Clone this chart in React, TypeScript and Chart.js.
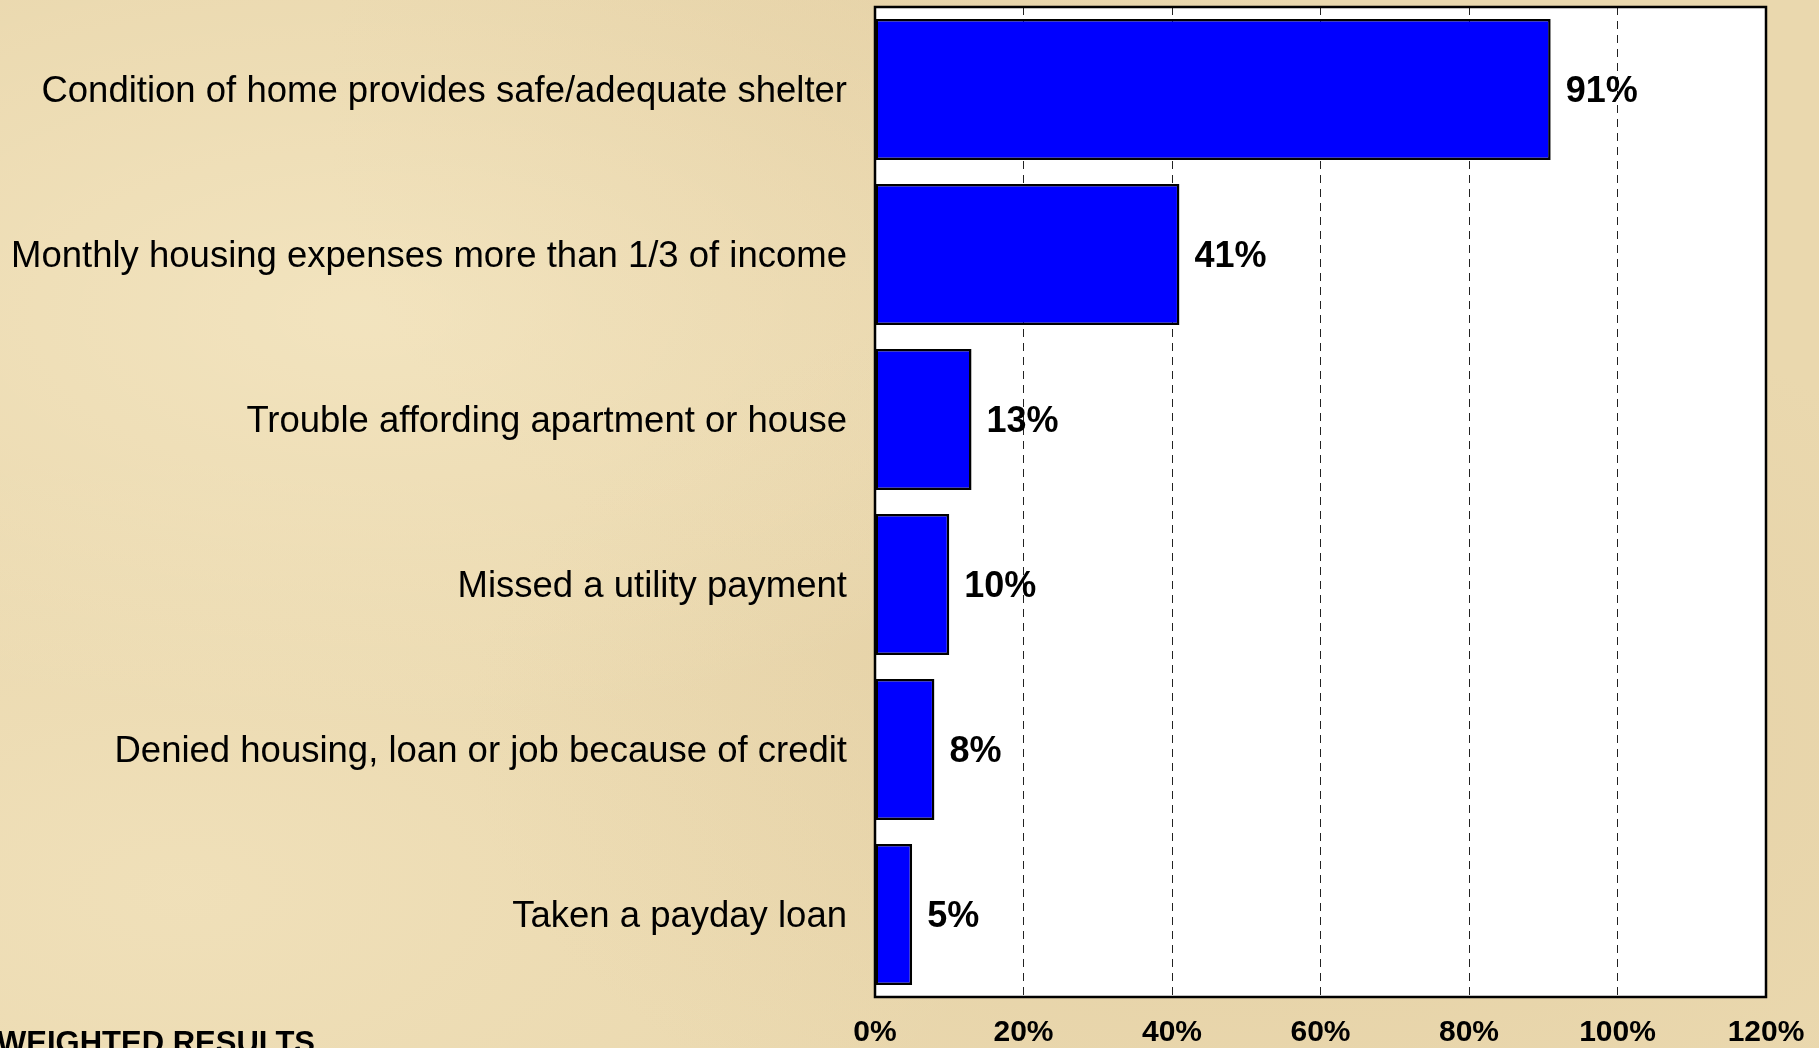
import React, { useEffect, useRef } from "react";
import { Chart, registerables } from "chart.js";

Chart.register(...registerables);

const categories = [
  "Condition of home provides safe/adequate shelter",
  "Monthly housing expenses more than 1/3 of income",
  "Trouble affording apartment or house",
  "Missed a utility payment",
  "Denied housing, loan or job because of credit",
  "Taken a payday loan",
];
const values = [91, 41, 13, 10, 8, 5];
const axisMin = 0;
const axisMax = 120;
const axisStep = 20;
const footnote = "WEIGHTED RESULTS";

const FONT = "'Liberation Sans', Arial, Helvetica, sans-serif";

const framePlugin = {
  id: "frame",
  beforeDraw(chart: any) {
    const { ctx, chartArea: a } = chart;
    ctx.save();
    ctx.fillStyle = "#ffffff";
    ctx.fillRect(a.left, a.top, a.right - a.left, a.bottom - a.top);
    ctx.restore();
  },
  afterDatasetsDraw(chart: any) {
    const { ctx, chartArea: a } = chart;
    ctx.save();
    ctx.strokeStyle = "#000";
    ctx.lineWidth = 2.5;
    ctx.strokeRect(a.left, a.top, a.right - a.left, a.bottom - a.top);
    const meta = chart.getDatasetMeta(0);
    ctx.fillStyle = "#000";
    ctx.font = `bold 36px ${FONT}`;
    ctx.textAlign = "left";
    ctx.textBaseline = "middle";
    meta.data.forEach((el: any, i: number) => {
      ctx.fillText(`${values[i]}%`, el.x + 15, el.y + 3);
    });
    ctx.restore();
  },
  afterDraw(chart: any) {
    const { ctx } = chart;
    ctx.save();
    ctx.fillStyle = "#000";
    ctx.font = `bold 31px ${FONT}`;
    ctx.textAlign = "left";
    ctx.textBaseline = "alphabetic";
    ctx.fillText(footnote, -3, 1053);
    ctx.restore();
  },
};

export default function App() {
  const ref = useRef<HTMLCanvasElement | null>(null);
  useEffect(() => {
    document.body.style.margin = "0";
    const chart = new Chart(ref.current as HTMLCanvasElement, {
      type: "bar",
      data: {
        labels: categories,
        datasets: [
          {
            data: values,
            backgroundColor: "#0000FF",
            borderColor: "#000000",
            borderWidth: 2.5,
            borderSkipped: false,
            categoryPercentage: 1,
            barPercentage: 0.855,
          },
        ],
      },
      options: {
        indexAxis: "y",
        responsive: false,
        animation: false,
        layout: { padding: { top: 7, right: 53, bottom: 0, left: 0 } },
        plugins: { legend: { display: false }, tooltip: { enabled: false } },
        scales: {
          x: {
            min: axisMin,
            max: axisMax,
            grid: {
              display: true,
              color: "#222",
              lineWidth: 1,
              drawTicks: false,
            },
            border: { display: false, dash: [8, 6] },
            ticks: {
              stepSize: axisStep,
              color: "#000",
              font: { family: FONT, size: 30, weight: "bold" },
              padding: 18,
              maxRotation: 0,
              callback: (v: any) => `${v}%`,
            },
            afterFit: (s: any) => {
              s.height = 51;
              s.paddingLeft = 0;
              s.paddingRight = 0;
            },
          },
          y: {
            grid: { display: false, drawTicks: false },
            border: { display: false },
            ticks: {
              color: "#000",
              font: { family: FONT, size: 36.5 },
              padding: 28,
              labelOffset: 2,
            },
            afterFit: (s: any) => {
              s.width = 875;
              s.paddingTop = 0;
              s.paddingBottom = 0;
            },
          },
        },
      },
      plugins: [framePlugin],
    } as any);
    return () => chart.destroy();
  }, []);

  const bg: React.CSSProperties = {
    position: "fixed",
    left: 0,
    top: 0,
    width: 1819,
    height: 1048,
    overflow: "hidden",
    backgroundColor: "#EAD8AE",
    backgroundImage:
      "radial-gradient(ellipse at 20% 30%, rgba(255,245,215,0.4), rgba(255,245,215,0) 40%)," +
      "radial-gradient(ellipse at 70% 70%, rgba(215,190,145,0.3), rgba(215,190,145,0) 45%)," +
      "radial-gradient(ellipse at 10% 85%, rgba(250,238,205,0.35), rgba(250,238,205,0) 35%)," +
      "radial-gradient(ellipse at 45% 10%, rgba(220,195,150,0.25), rgba(220,195,150,0) 35%)",
  };

  return (
    <div style={bg}>
      <canvas ref={ref} width={1819} height={1048} style={{ display: "block" }} />
    </div>
  );
}
